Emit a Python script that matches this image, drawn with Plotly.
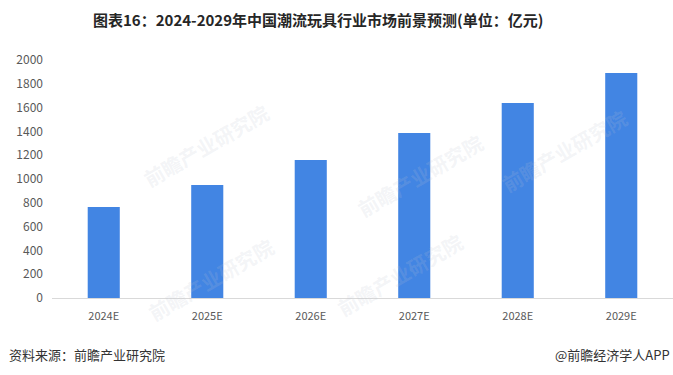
import plotly.graph_objects as go

categories = ["2024E", "2025E", "2026E", "2027E", "2028E", "2029E"]
values = [765, 950, 1160, 1387, 1639, 1891]
y_ticks = [0, 200, 400, 600, 800, 1000, 1200, 1400, 1600, 1800, 2000]

title_text = "图表16：2024-2029年中国潮流玩具行业市场前景预测(单位：亿元)"
source_text = "资料来源：前瞻产业研究院"
credit_text = "@前瞻经济学人APP"
watermark = "前瞻产业研究院"

FONT = "Noto Sans CJK SC, Microsoft YaHei, sans-serif"

W, H = 673, 375
L, R, T, B = 52, 0, 60, 77
pw, ph = W - L - R, H - T - B


def px(x):
    return (x - L) / pw


def py(y):
    return (H - B - y) / ph


fig = go.Figure()
fig.add_trace(go.Bar(
    x=categories, y=values,
    marker=dict(color="#4285E3", line=dict(width=0)),
    hoverinfo="x+y",
))

annotations = [
    dict(text="<b>" + title_text + "</b>", x=px(318), y=py(20), xref="paper", yref="paper",
         xanchor="center", yanchor="middle",
         showarrow=False, font=dict(size=15, color="#262626", family=FONT)),
    dict(text=source_text, x=px(7), y=py(354), xref="paper", yref="paper",
         xanchor="left", yanchor="middle",
         showarrow=False, font=dict(size=13, color="#333333", family=FONT)),
    dict(text=credit_text, x=px(672), y=py(354), xref="paper", yref="paper",
         xanchor="right", yanchor="middle",
         showarrow=False, font=dict(size=13, color="#333333", family=FONT)),
]
for (wx, wy) in [(135, 95), (420, 125), (635, 150), (140, 330), (400, 325)]:
    annotations.append(dict(text="<b>" + watermark + "</b>", x=px(wx), y=py(wy),
                            xref="paper", yref="paper", textangle=-30,
                            showarrow=False,
                            font=dict(size=20, color="rgba(190,196,208,0.18)", family=FONT)))

fig.update_layout(
    width=W, height=H,
    margin=dict(l=L, r=R, t=T, b=B),
    paper_bgcolor="white", plot_bgcolor="white",
    bargap=0.69,
    showlegend=False,
    font=dict(family=FONT, color="#595959", size=12),
    xaxis=dict(showgrid=False, showline=True, linecolor="#D9D9D9", linewidth=1,
               ticks="", ticklabelstandoff=8,
               tickfont=dict(size=11, color="#595959"), fixedrange=True),
    yaxis=dict(range=[0, 2000], tickvals=y_ticks, showgrid=False, zeroline=False,
               showline=False, ticks="", ticklabelstandoff=8,
               tickfont=dict(size=12, color="#595959"), fixedrange=True),
    annotations=annotations,
)

fig.write_html("out.html", config={"displayModeBar": False},
               post_script="document.body.style.margin='0';")
